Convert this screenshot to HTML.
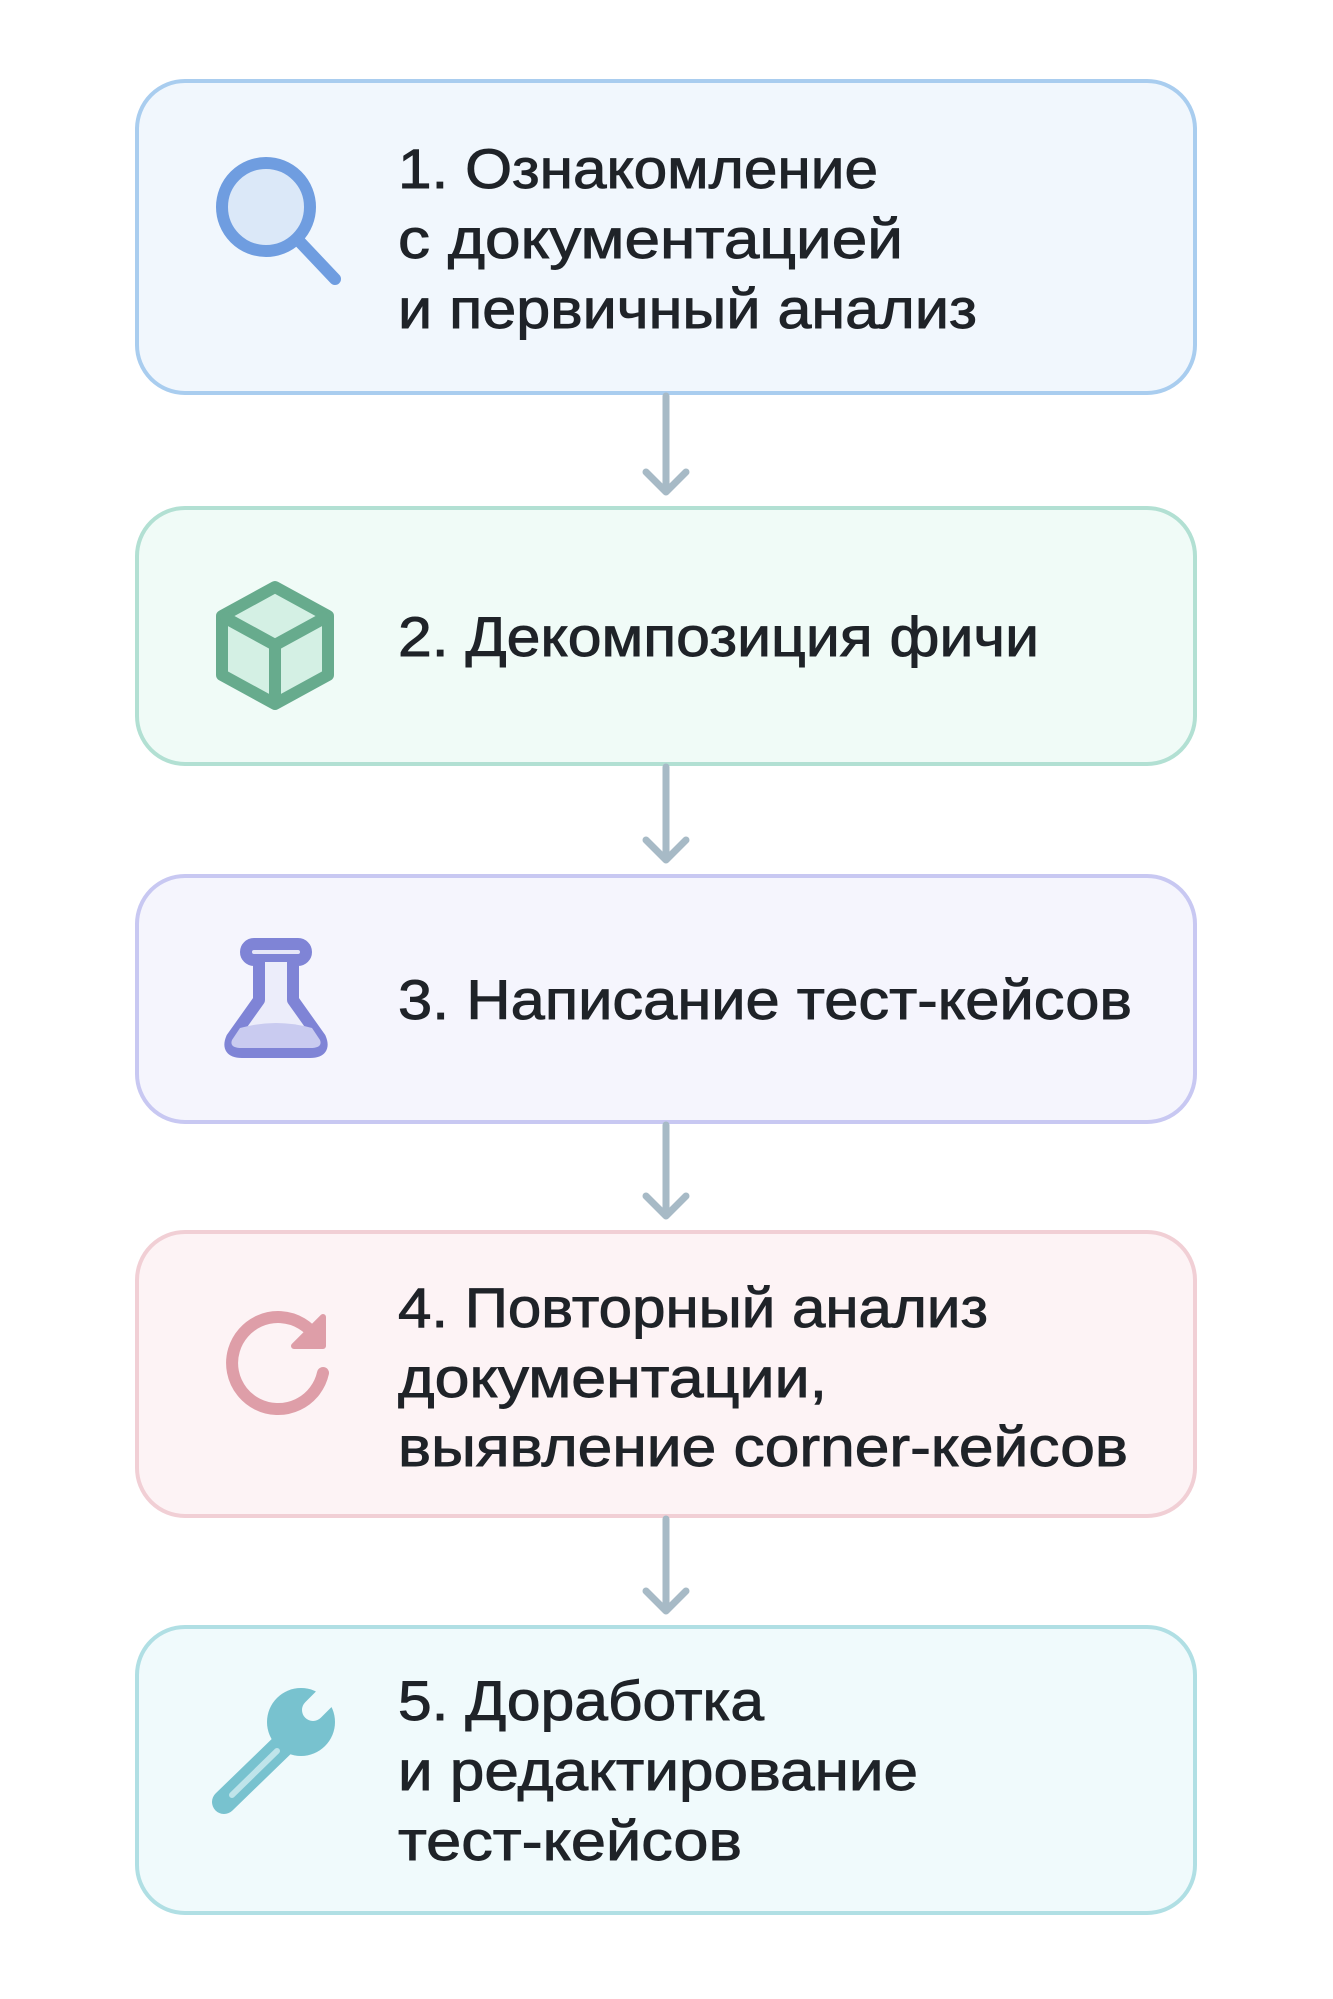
<!DOCTYPE html>
<html><head><meta charset="utf-8"><style>
html,body{margin:0;padding:0;background:#fff;}
svg{display:block;}
text{font-family:"Liberation Sans","DejaVu Sans",sans-serif;font-size:56px;fill:#1f2328;stroke:#1f2328;stroke-width:0.9px;}
</style></head><body>
<svg width="1333" height="1999" viewBox="0 0 1333 1999" xmlns="http://www.w3.org/2000/svg">
<rect x="0" y="0" width="1333" height="1999" fill="#ffffff"/>
<rect x="137" y="81" width="1058" height="312" rx="48" fill="#f1f7fd" stroke="#a9cdef" stroke-width="4"/>
<rect x="137" y="508" width="1058" height="256" rx="48" fill="#f0fbf7" stroke="#b2e0d3" stroke-width="4"/>
<rect x="137" y="876" width="1058" height="246" rx="48" fill="#f5f5fd" stroke="#c8c8f2" stroke-width="4"/>
<rect x="137" y="1232" width="1058" height="284" rx="48" fill="#fdf3f5" stroke="#f1cfd5" stroke-width="4"/>
<rect x="137" y="1627" width="1058" height="286" rx="48" fill="#f0fafc" stroke="#b0dfe4" stroke-width="4"/>
<g stroke="#a7bac6" stroke-width="7" fill="none" stroke-linecap="round" stroke-linejoin="round">
<path d="M666 396 V490 M646 472 L666 492 L686 472"/>
<path d="M666 767 V858 M646 840 L666 860 L686 840"/>
<path d="M666 1125 V1214 M646 1196 L666 1216 L686 1196"/>
<path d="M666 1519 V1609 M646 1591 L666 1611 L686 1591"/>
</g>
<circle cx="266" cy="207" r="44" fill="#dbe8f8" stroke="#6f9de0" stroke-width="12"/>
<line x1="300" y1="242" x2="335" y2="279" stroke="#6f9de0" stroke-width="12" stroke-linecap="round"/>

<g stroke="#67ab8d" stroke-width="12" stroke-linejoin="round">
<path d="M275 587 L328 616 L328 675 L275 704 L222 675 L222 616 Z" fill="#d4f0e4"/>
<path d="M222 616 L275 645 L328 616 M275 645 V704" fill="none"/>
</g>

<g stroke="#7f84d6" stroke-width="12" stroke-linejoin="round" stroke-linecap="round">
<rect x="246" y="944" width="60" height="16" rx="8" fill="#e6e7f8"/>
<path d="M259 962 V1000 L232 1038 Q226 1052 242 1052 H310 Q326 1052 320 1038 L293 1000 V962" fill="#ecedfa"/>
<path d="M240 1028 Q276 1018 312 1028 L320 1040 Q323 1048 310 1048 H242 Q229 1048 232 1040 Z" fill="#c9cbf0" stroke="none"/>
</g>

<path d="M316 1337 A46 46 0 1 0 323 1373" fill="none" stroke="#de9ea8" stroke-width="12" stroke-linecap="round"/>
<path d="M323 1317 L323 1346 L294 1346 Z" fill="#de9ea8" stroke="#de9ea8" stroke-width="6" stroke-linejoin="round"/>

<g>
<line x1="290" y1="1738" x2="224" y2="1802" stroke="#78c2cf" stroke-width="24" stroke-linecap="round"/>
<line x1="277" y1="1751" x2="232" y2="1795" stroke="#bfe4ea" stroke-width="6" stroke-linecap="round"/>
<circle cx="301" cy="1722" r="34" fill="#78c2cf"/>
<line x1="313" y1="1710" x2="345" y2="1678" stroke="#f0fafc" stroke-width="22" stroke-linecap="round"/>
</g>

<text x="398" y="188" textLength="480" lengthAdjust="spacingAndGlyphs">1. Ознакомление</text>
<text x="398" y="258" textLength="505" lengthAdjust="spacingAndGlyphs">с документацией</text>
<text x="398" y="328" textLength="579" lengthAdjust="spacingAndGlyphs">и первичный анализ</text>
<text x="398" y="656" textLength="641" lengthAdjust="spacingAndGlyphs">2. Декомпозиция фичи</text>
<text x="398" y="1019" textLength="734" lengthAdjust="spacingAndGlyphs">3. Написание тест-кейсов</text>
<text x="398" y="1327" textLength="590" lengthAdjust="spacingAndGlyphs">4. Повторный анализ</text>
<text x="398" y="1397" textLength="429" lengthAdjust="spacingAndGlyphs">документации,</text>
<text x="398" y="1466" textLength="730" lengthAdjust="spacingAndGlyphs">выявление corner-кейсов</text>
<text x="398" y="1720" textLength="366" lengthAdjust="spacingAndGlyphs">5. Доработка</text>
<text x="398" y="1790" textLength="520" lengthAdjust="spacingAndGlyphs">и редактирование</text>
<text x="398" y="1860" textLength="344" lengthAdjust="spacingAndGlyphs">тест-кейсов</text>
</svg>
</body></html>
